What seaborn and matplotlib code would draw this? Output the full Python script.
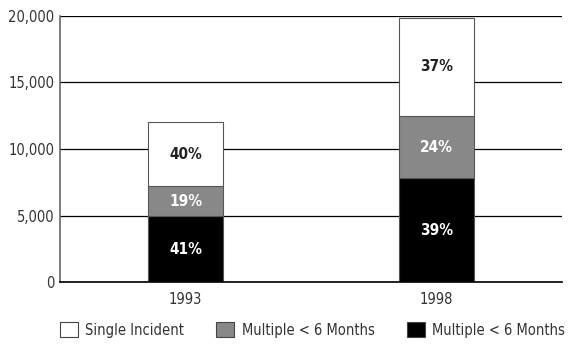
import numpy as np
import matplotlib
matplotlib.use('Agg')
import matplotlib.pyplot as plt
import seaborn as sns
from matplotlib.patches import Patch
from matplotlib import font_manager as fm

# ------------------------------------------------------------ #
# data
# ------------------------------------------------------------ #

years = ['1993', '1998']
black_vals = [4950, 7800]
gray_vals = [2250, 4700]
white_vals = [4800, 7350]
black_pct = ['41%', '39%']
gray_pct = ['19%', '24%']
white_pct = ['40%', '37%']
legend_labels = ['Single Incident', 'Multiple < 6 Months', 'Multiple < 6 Months']
y_ticks = [0, 5000, 10000, 15000, 20000]

sns.set_style('white')

# pick a narrow font if one is there
fonts = fm.fontManager.ttflist
names = {f.name for f in fonts}
has_dv_cond = any(f.name == 'DejaVu Sans' and f.stretch in ('condensed', 'semi-condensed')
                  for f in fonts)
if 'Liberation Sans Narrow' in names:
    plt.rcParams['font.family'] = ['Liberation Sans Narrow', 'DejaVu Sans']
    fs = 12
elif has_dv_cond:
    plt.rcParams['font.family'] = ['DejaVu Sans']
    plt.rcParams['font.stretch'] = 'condensed'
    fs = 10.5
else:
    plt.rcParams['font.family'] = ['Roboto', 'DejaVu Sans']
    fs = 10.5

fig = plt.figure(figsize=(5.73, 3.45), dpi=100)
ax = fig.add_axes([60 / 573, 63 / 345, 502 / 573, 266 / 345])

# gridlines behind bars
ax.set_axisbelow(True)
ax.yaxis.grid(True, color='black', linewidth=0.9)
ax.xaxis.grid(False)

edge = '#555555'
black_c = '#000000'
gray_c = '#888888'
white_c = '#ffffff'

gray_bottom = np.array(black_vals)
white_bottom = gray_bottom + np.array(gray_vals)

sns.barplot(x=years, y=black_vals, color=black_c, edgecolor=edge, linewidth=0.8,
            width=0.3, errorbar=None, ax=ax, saturation=1)
sns.barplot(x=years, y=gray_vals, bottom=gray_bottom, color=gray_c, edgecolor=edge,
            linewidth=0.8, width=0.3, errorbar=None, ax=ax, saturation=1)
sns.barplot(x=years, y=white_vals, bottom=white_bottom, color=white_c, edgecolor=edge,
            linewidth=0.8, width=0.3, errorbar=None, ax=ax, saturation=1)

# percent labels in the middle of each segment
pfs = fs + 0.5
for i in range(len(years)):
    ax.text(i, black_vals[i] / 2, black_pct[i], ha='center', va='center',
            color='white', fontsize=pfs, fontweight='bold')
    ax.text(i, gray_bottom[i] + gray_vals[i] / 2, gray_pct[i], ha='center', va='center',
            color='white', fontsize=pfs, fontweight='bold')
    ax.text(i, white_bottom[i] + white_vals[i] / 2, white_pct[i], ha='center', va='center',
            color='#222222', fontsize=pfs, fontweight='bold')

ax.set_xlim(-0.5, 1.5)
ax.set_ylim(0, 20000)
ax.set_yticks(y_ticks)
ax.set_yticklabels(['{:,}'.format(v) for v in y_ticks])
ax.set_xticks([-0.5, 0.5, 1.5], minor=True)
ax.tick_params(axis='x', which='major', length=0, pad=7, labelsize=fs, labelcolor='#333333')
ax.tick_params(axis='x', which='minor', direction='in', length=5, width=1, color='black')
ax.tick_params(axis='y', length=0, pad=4, labelsize=fs, labelcolor='#333333')
ax.set_xlabel('')
ax.set_ylabel('')

for s in ['top', 'right']:
    ax.spines[s].set_visible(False)
ax.spines['left'].set_color('#666666')
ax.spines['left'].set_linewidth(1.2)
ax.spines['bottom'].set_color('black')
ax.spines['bottom'].set_linewidth(1.2)

# legend below the chart
handles = [Patch(facecolor=c, edgecolor='#444444', linewidth=0.8)
           for c in [white_c, gray_c, black_c]]
fig.legend(handles, legend_labels, loc='center', bbox_to_anchor=(0.545, 0.044), ncol=3,
           frameon=False, fontsize=fs, handlelength=1.25, handleheight=1.25,
           handletextpad=0.5, columnspacing=2.2, labelcolor='#333333')

fig.savefig('out.png', dpi=100)
